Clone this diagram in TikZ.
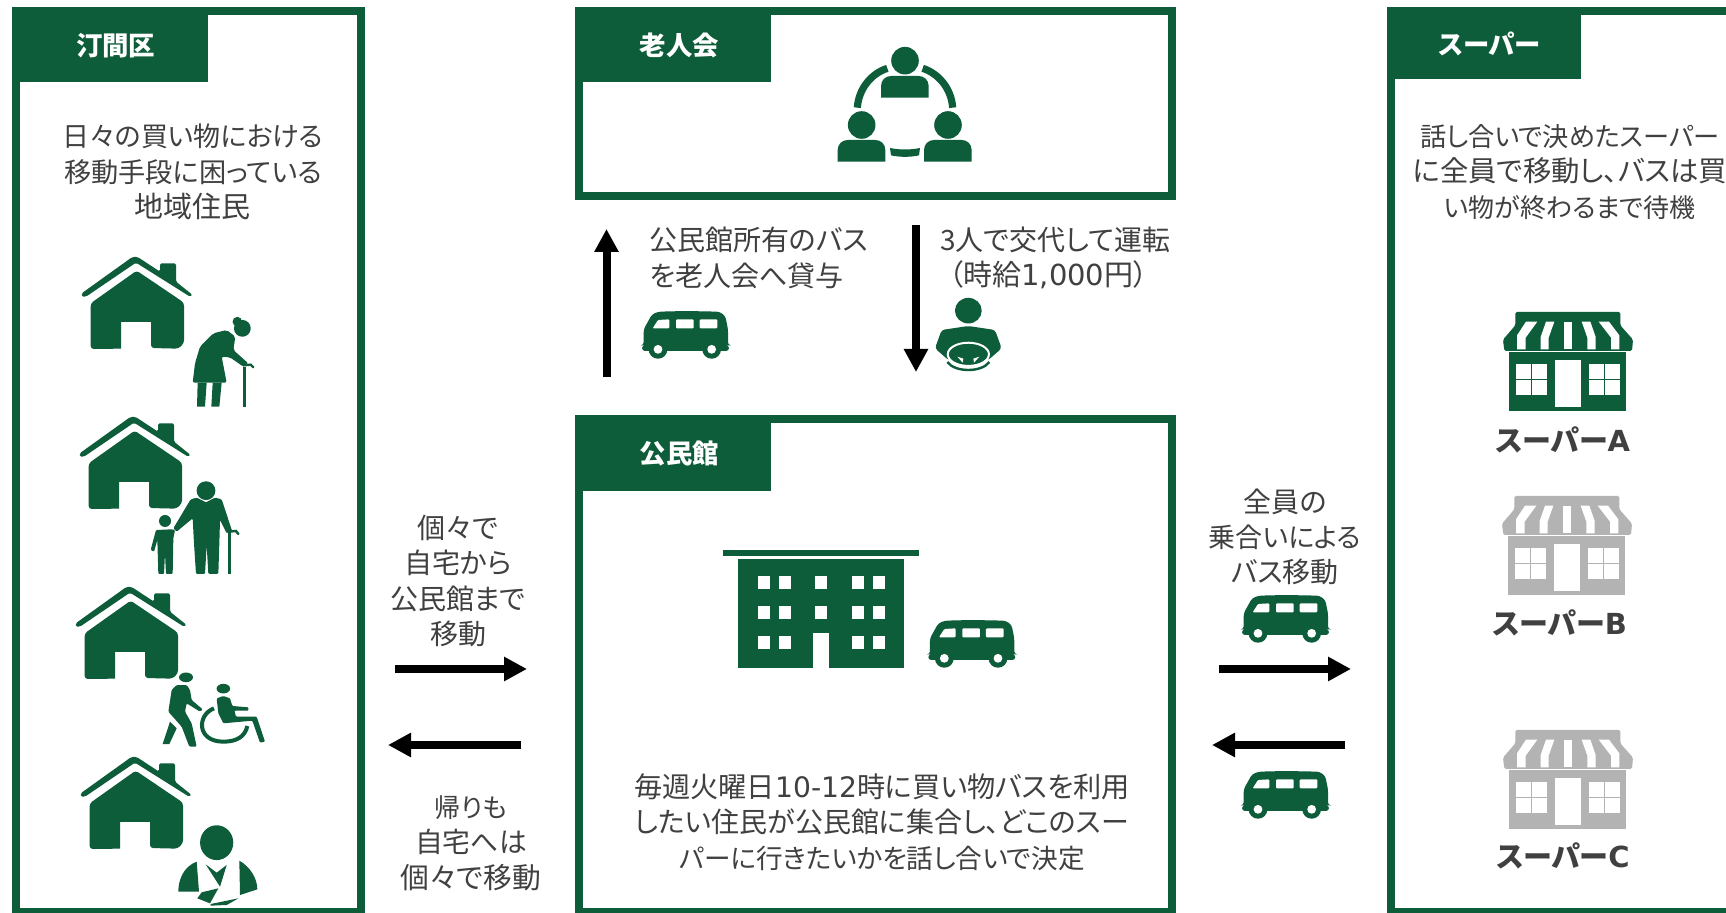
\documentclass[tikz,border=0pt]{standalone}
\usepackage{fontspec}
\usetikzlibrary{arrows.meta,fit}
\setmainfont{Noto Sans CJK JP}[RawFeature=+palt]
\newfontfamily\lat{DejaVu Sans}
\definecolor{gr}{HTML}{0D5C3A}
\definecolor{tx}{HTML}{404040}
\definecolor{shopgray}{HTML}{B3B3B3}
\newcommand\fsz[1]{\fontsize{#1}{17.7}\selectfont}
\tikzset{
  frame/.style={draw=gr,line width=4pt,inner sep=0pt,outer sep=0pt},
  tab/.style={fill=gr,inner sep=0pt,outer sep=0pt},
  tabtext/.style={text=white,inner sep=0pt,xshift=3pt,yshift=-0.5pt,font=\fontsize{13.2}{15}\selectfont\bfseries},
  body/.style={text=tx,align=center,inner sep=0pt,font=\fsz{14}},
  shoplabel/.style={text=tx,inner sep=0pt,font=\fontsize{14.5}{17}\selectfont\bfseries},
  flow/.style={line width=4pt,draw=black,-{Triangle[length=11.5pt,width=11.5pt]}},
  zm/.style 2 args={shift={(#1,#2)},x=0.16667pt,y=-0.16667pt},
  housepic/.pic={
    \begin{scope}[x=0.16667pt,y=-0.16667pt,fill=gr]
      \fill[rounded corners=0.8pt] (-160,122) -- (-160,112) -- (-8,3) -- (8,3) -- (75,47) -- (75,22) -- (123,22) -- (123,77) -- (173,117) -- (165,122) -- (3,20) -- (-147,122) -- cycle;
      \fill[rounded corners=1.5pt] (-133,142) -- (5,44) -- (147,140) -- (147,262) -- (130,278) -- (48,276) [sharp corners] -- (48,198) -- (-42,198) -- (-42,278) [rounded corners=1.5pt] -- (-133,279) -- cycle;
    \end{scope}
  },
  buspic/.pic={
    \begin{scope}[x=0.16667pt,y=-0.16667pt]
      \fill[gr,rounded corners=1.5pt] (5,55) -- (30,10) -- (50,2) -- (130,0) -- (232,2) -- (250,15) -- (258,55) -- (258,103) -- (261,103) -- (261,120) -- (0,120) -- (0,103) -- (5,103) -- cycle;
      \fill[gr] (48,115) circle[radius=4.7pt];
      \fill[gr] (209,115) circle[radius=4.7pt];
      \fill[white] (48,115) circle[radius=2.2pt];
      \fill[white] (209,115) circle[radius=2.2pt];
      \fill[white,rounded corners=0.5pt] (32,52) -- (48,27) -- (82,25) -- (82,52) -- cycle;
      \fill[white,rounded corners=0.5pt] (102,25) rectangle (155,52);
      \fill[white,rounded corners=0.5pt] (173,25) rectangle (226,52);
    \end{scope}
  },
  shoppic/.pic={
    \begin{scope}[x=0.16667pt,y=-0.16667pt]
      \fill[#1,rounded corners=0.8pt] (37,0) -- (352,0) -- (352,40) -- (390,83) -- (387,117) -- (4,117) -- (0,83) -- (37,40) -- cycle;
      \fill[white] (69,29) -- (103,29) -- (68,77) -- (68,112) -- (42,112) -- (42,70) -- cycle;
      \fill[white] (129,29) -- (154,29) -- (137,77) -- (137,112) -- (113,112) -- (113,75) -- cycle;
      \fill[white] (183,29) -- (207,29) -- (207,112) -- (183,112) -- cycle;
      \fill[white] (236,29) -- (262,29) -- (278,75) -- (278,112) -- (253,112) -- (253,77) -- cycle;
      \fill[white] (287,29) -- (318,29) -- (349,70) -- (349,112) -- (324,112) -- (324,77) -- cycle;
      \fill[#1] (19,119) rectangle (370,297);
      \fill[white] (40,155) rectangle (132,249);
      \fill[white] (258,155) rectangle (350,249);
      \fill[white] (155,143) rectangle (235,286);
      \fill[#1] (85,155) rectangle (88,249);
      \fill[#1] (40,200) rectangle (132,203);
      \fill[#1] (303,155) rectangle (306,249);
      \fill[#1] (258,200) rectangle (350,203);
    \end{scope}
  },
  memberbody/.pic={
    \fill[gr] (0,65) -- (0,30) .. controls (0,12) and (14,0) .. (30,0) -- (113,0) .. controls (129,0) and (143,12) .. (143,30) -- (143,65) -- cycle;
  }
}
\begin{document}
\begin{tikzpicture}[x=0.5pt,y=-0.5pt]
\path[use as bounding box,clip] (0,0) rectangle (1726,913);
\fill[white] (0,0) rectangle (1726,913);

% frames and tabs
\node[frame,fit={(16,10.7)(361,912)}] (ward) {};
\node[frame,fit={(579.4,10.7)(1172,196)}] (club) {};
\node[frame,fit={(579.4,419)(1172,912)}] (hall) {};
\node[frame,fit={(1391,10.7)(1760,912)}] (super) {};
\node[tab,fit={(12,6.7)(207.5,82)},label={[tabtext]center:汀間区}] (wardtab) {};
\node[tab,fit={(575.4,6.7)(771,82)},label={[tabtext]center:老人会}] (clubtab) {};
\node[tab,fit={(575.4,415)(771,491)},label={[tabtext]center:公民館}] (halltab) {};
\node[tab,fit={(1387,6.7)(1581,79)},label={[tabtext]center:スーパー}] (supertab) {};

% texts
\node[body] (wardtext) at (193,172) {\fsz{13.5}日々の買い物における\\\fsz{13.6}移動手段に困っている\\\fsz{14.5}地域住民};
\node[body,align=left,anchor=west] (loan) at (649,258) {公民館所有のバス\\を老人会へ貸与};
\node[body] (drive) at (1055,258) {3人で交代して運転\\\fsz{14.5}（時給{\lat 1,000}円）\hspace*{6.6pt}};
\node[body] (go) at (458,581) {個々で\\自宅から\\公民館まで\\移動};
\node[body] (back) at (471,843) {\fsz{13}帰りも\\\fsz{13.9}自宅へは\\\fsz{14.4}個々で移動};
\node[body] (ride) at (1285,537) {全員の\\\fsz{13.5}乗合いによる\\\fsz{14}バス移動};
\node[body] (halltext) at (882,822) {\fsz{14.1}毎週火曜日{\lat 10-12}時に買い物バスを利用\\したい住民が公民館に集合し、どこのスー\\\fsz{13.3}パーに行きたいかを話し合いで決定};
\node[body] (supertext) at (1570,172) {\fsz{13.1}話し合いで決めたスーパー\\\fsz{14.2}に全員で移動し、バスは買\\\fsz{13}い物が終わるまで待機};
\node[shoplabel] (shopa) at (1563,440) {スーパー{\lat\bfseries A}};
\node[shoplabel] (shopb) at (1560,623) {スーパー{\lat\bfseries B}};
\node[shoplabel] (shopc) at (1563,856) {スーパー{\lat\bfseries C}};

% arrows
\coordinate (a1s) at (606.5,377); \coordinate (a1e) at (606.5,229);
\coordinate (a2s) at (916,225);   \coordinate (a2e) at (916,372);
\coordinate (a3s) at (395,669);   \coordinate (a3e) at (527,669);
\coordinate (a4s) at (521,745);   \coordinate (a4e) at (388,745);
\coordinate (a5s) at (1219,669);  \coordinate (a5e) at (1351,669);
\coordinate (a6s) at (1345,745);  \coordinate (a6e) at (1212,745);
\draw[flow] (a1s) -- (a1e);
\draw[flow] (a2s) -- (a2e);
\draw[flow] (a3s) -- (a3e);
\draw[flow] (a4s) -- (a4e);
\draw[flow] (a5s) -- (a5e);
\draw[flow] (a6s) -- (a6e);

% houses
\pic at (135,256) {housepic};
\pic at (133,416) {housepic};
\pic at (129,586) {housepic};
\pic at (134,756) {housepic};

% bent lady
\begin{scope}[zm={0}{0},fill=gr]
  \fill[gr] (727,985) circle[radius=4.2pt];
  \fill[gr] (712,965) circle[radius=2.4pt];
  \fill[gr,rounded corners=1pt] (680,990) -- (640,1000) -- (600,1040) -- (585,1090) -- (578,1148) -- (680,1148) -- (665,1070) -- (690,1072) -- (730,1100) -- (745,1090) -- (700,1050) -- (706,1010) -- cycle;
  \fill[gr] (593,1148) -- (591,1220) -- (615,1220) -- (620,1148) -- cycle;
  \fill[gr] (638,1148) -- (634,1220) -- (658,1220) -- (665,1148) -- cycle;
  \fill[gr] (729,1100) rectangle (737,1220);
  \draw[gr,line width=1.2pt,line cap=round] (730,1096) -- (752,1094) -- (760,1102);
\end{scope}

% persons on lower zoom
\begin{scope}[zm={0}{450}]
  % woman and child
  \fill[gr] (618,122) circle[radius=4.7pt];
  \fill[gr,rounded corners=0.6pt] (572,148) -- (590,143) -- (618,157) -- (645,143) -- (665,148) -- (697,245) -- (680,250) -- (660,210) -- (658,280) -- (655,372) -- (625,372) -- (620,285) -- (615,372) -- (588,372) -- (582,280) -- (578,205) -- (530,245) -- (520,235) -- cycle;
  \fill[gr] (684,245) rectangle (692,372);
  \draw[gr,line width=1.2pt,line cap=round] (686,245) -- (708,243) -- (715,252);
  \fill[gr] (495,213) circle[radius=3pt];
  \fill[gr,rounded corners=0.5pt] (468,240) -- (515,238) -- (525,240) -- (520,265) -- (518,372) -- (498,372) -- (495,310) -- (492,372) -- (475,372) -- (472,270) -- (462,305) -- (452,300) -- cycle;
  % carer and wheelchair
  \fill[gr] (558,682) ellipse[x radius=3.5pt,y radius=2.4pt];
  \fill[gr,rounded corners=0.6pt] (530,705) -- (560,705) -- (570,720) -- (575,750) -- (608,778) -- (600,785) -- (560,760) -- (555,785) -- (575,820) -- (590,890) -- (568,890) -- (545,830) -- (505,785) -- (515,720) -- cycle;
  \fill[gr] (510,815) -- (530,835) -- (508,882) -- (488,882) -- cycle;
  \fill[gr] (670,716) ellipse[x radius=3.4pt,y radius=2.4pt];
  \fill[gr,rounded corners=0.5pt] (650,745) -- (670,738) -- (690,745) -- (697,768) -- (745,772) -- (745,782) -- (703,782) -- (708,800) -- (770,800) -- (795,875) -- (780,878) -- (757,812) -- (670,820) -- (655,790) -- cycle;
  \draw[gr,line width=2pt] (642,775) .. controls (590,795) and (590,875) .. (670,875) .. controls (710,875) and (735,860) .. (742,828);
  % injured person
  \fill[gr] (650,1178) ellipse[x radius=8.3pt,y radius=8.7pt];
  \fill[gr] (590,1235) .. controls (550,1250) and (535,1290) .. (535,1325) -- (597,1325) -- cycle;
  \fill[gr] (718,1232) .. controls (750,1250) and (772,1285) .. (772,1318) -- (720,1335) -- cycle;
  \fill[gr] (617,1243) -- (650,1268) -- (680,1245) -- (660,1310) -- cycle;
  \fill[gr] (655,1315) -- (605,1327) -- (592,1345) -- (630,1360) -- cycle;
  \fill[gr] (632,1362) -- (715,1345) -- (680,1365) -- (632,1367) -- cycle;
\end{scope}

% club icon
\begin{scope}[zm={810}{30}]
  \fill[gr] (285,92) circle[radius=6.9pt];
  \pic at (213,138) {memberbody};
  \fill[gr] (155,285) circle[radius=6.9pt];
  \pic at (83,330) {memberbody};
  \fill[gr] (414,285) circle[radius=6.9pt];
  \pic at (342,330) {memberbody};
  \draw[gr,line width=3.6pt] (142,233) .. controls (146,175) and (185,130) .. (232,115);
  \draw[gr,line width=3.6pt] (428,233) .. controls (424,175) and (385,130) .. (338,115);
  \fill[gr] (240,354) .. controls (270,360) and (300,360) .. (330,354) -- (327,376) .. controls (300,382) and (270,382) .. (243,376) -- cycle;
\end{scope}

% driver icon
\begin{scope}[zm={900}{280}]
  \fill[gr] (205,92) ellipse[x radius=6.7pt,y radius=6.4pt];
  \fill[gr,rounded corners=1.5pt] (125,150) -- (205,138) -- (285,150) -- (305,205) -- (265,240) -- (145,240) -- (105,205) -- cycle;
  \fill[gr] (205,223) ellipse[x radius=10.3pt,y radius=5.8pt];
  \draw[white,line width=1pt] (205,223) ellipse[x radius=10.3pt,y radius=5.8pt];
  \fill[white] (172,230) -- (190,236) -- (188,248) -- cycle;
  \fill[white] (238,230) -- (220,236) -- (222,248) -- cycle;
  \draw[gr,line width=1.2pt] (142,246) .. controls (165,278) and (245,278) .. (268,246);
\end{scope}

% building
\begin{scope}[zm={700}{530}]
  \fill[gr] (70,60) rectangle (657,78);
  \fill[gr] (114,87) rectangle (613,413);
  \fill[white] (338,310) rectangle (388,413);
  \foreach \wx in {173,236,346,456,518} \foreach \wy in {137,227} \fill[white] (\wx,\wy) rectangle +(36,40);
  \foreach \wx in {173,236,456,518} \fill[white] (\wx,317) rectangle +(36,40);
\end{scope}

% buses
\pic at (928.3,620) {buspic};
\pic at (642,311) {buspic};
\pic at (1242,595) {buspic};
\pic at (1242,771) {buspic};

% shops
\pic at (1503,312) {shoppic=gr};
\pic at (1502,496) {shoppic=shopgray};
\pic at (1503,730) {shoppic=shopgray};
\end{tikzpicture}
\end{document}
